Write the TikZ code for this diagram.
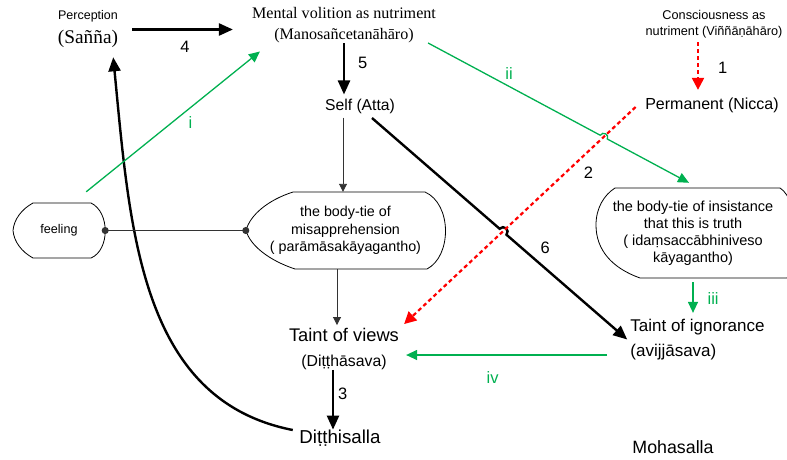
\documentclass[tikz,border=0pt]{standalone}
\usepackage{fontspec}
\setmainfont{Liberation Sans}
\newfontfamily\timesfont{Liberation Serif}
\usetikzlibrary{arrows.meta,calc}

\definecolor{vgreen}{RGB}{0,176,80}

\tikzset{
    txt/.style={inner sep=0pt, align=center},
    num/.style={inner sep=1pt, font=\fontsize{16.5}{18}\selectfont},
    gnum/.style={num, text=vgreen},
    thickarrow/.style={line width=2.4pt, -{Triangle[length=14pt,width=12pt]}},
    thinarrow/.style={line width=0.9pt, draw=black!80, -{Triangle[length=8pt,width=8pt]}},
    greenarrow/.style={line width=1.3pt, draw=vgreen, -{Triangle[length=11pt,width=10pt]}},
    redarrow/.style={line width=2.2pt, draw=red, dash pattern=on 4pt off 3pt,
        -{Triangle[length=12pt,width=12pt]}},
    tieline/.style={line width=0.8pt}
}

\begin{document}
\begin{tikzpicture}[x=1pt,y=-1pt]
\useasboundingbox (0,0) rectangle (787,459);

% Noeuds du haut
\node[txt] (perc) at (88,29.5)
    {\fontsize{12.5}{14}\selectfont Perception\\[7pt]
     \timesfont\fontsize{19.3}{21}\selectfont (Sañña)};
\node[txt, font=\timesfont\fontsize{16.1}{21}\selectfont] (vol) at (344,25)
    {Mental volition as nutriment\\(Manosañcetanāhāro)};
\node[txt, font=\fontsize{15.7}{18}\selectfont] (self) at (360,106) {Self (Atta)};
\node[txt, font=\fontsize{12.7}{16}\selectfont] (cons) at (714,24)
    {Consciousness as\\nutriment (Viññāṇāhāro)};
\node[txt, font=\fontsize{16}{18}\selectfont] (perm) at (712,105) {Permanent (Nicca)};

% Liens du corps
\node[txt, minimum width=92pt, minimum height=55pt,
    font=\fontsize{12.6}{15}\selectfont] (feel) at (59,230.5) {feeling};
\node[txt, minimum width=199pt, minimum height=77pt,
    font=\fontsize{14.3}{17.5}\selectfont] (miss) at (345.5,230.5)
    {the body-tie of\\misapprehension\\( parāmāsakāyagantho)};
\node[txt, minimum width=194pt, minimum height=90pt,
    font=\fontsize{14.5}{17}\selectfont] (insist) at (693,233)
    {the body-tie of insistance\\that this is truth\\( idaṃsaccābhiniveso\\kāyagantho)};

% Contours
\draw[tieline] (33,203) -- (91,203) .. controls (110,212) and (110,250) .. (91,258)
    -- (33,258) .. controls (22,252) and (14,242) .. (13,230.5)
    .. controls (14,219) and (22,209) .. cycle;
\draw[tieline] (293,192) -- (425,192) .. controls (452,204) and (452,256) .. (427,269)
    -- (295,269) .. controls (268,260) and (250,245) .. (246,230.5)
    .. controls (250,215) and (268,200) .. cycle;
\draw[tieline] (615,188) -- (780,188) .. controls (800,200) and (800,266) .. (787,278)
    -- (640,278) .. controls (612,268) and (596,250) .. (596,225)
    .. controls (596,208) and (604,195) .. cycle;

% Noeuds du bas
\node[txt, font=\fontsize{18.3}{25}\selectfont] (views) at (344,349)
    {Taint of views\\{\fontsize{15.8}{25}\selectfont (Diṭṭhāsava)}};
\node[txt, align=left, font=\fontsize{17}{25}\selectfont] (ignor) at (697.5,339.5)
    {Taint of ignorance\\(avijjāsava)};
\node[txt, font=\fontsize{18.7}{20}\selectfont] (dsalla) at (340,438) {Diṭṭhisalla};
\node[txt, font=\fontsize{17.8}{20}\selectfont] (moha) at (673,447) {Mohasalla};

% Fleches noires
\draw[thickarrow, shorten <=14pt, shorten >=19pt] (perc.east) -- (perc.east -| vol.west)
    node[num, midway, below=9pt] {4};
\draw[thickarrow, shorten >=4pt] (vol.south) -- (vol.south |- self.north)
    node[num, pos=0.35, right=12pt] {5};
\path ([shift={(12,4.5)}]self.south) coordinate (sixA) ([xshift=-3pt]ignor.west) coordinate (sixB);
\draw[thickarrow] (sixA) -- ($(sixA)!0.500!(sixB)$)
    .. controls ($(sixA)!0.500!(sixB)!6pt!90:(sixB)$) and ($(sixA)!0.527!(sixB)!6pt!90:(sixB)$)
    .. ($(sixA)!0.527!(sixB)$) -- (sixB)
    node[num, pos=0.32, above=12pt] {6};
\draw[thickarrow] ([xshift=-11pt]views.south) -- ([xshift=-11pt]views.south |- dsalla.north)
    node[num, pos=0.4, right=3pt] {3};
\draw[thickarrow] ([shift={(-6.5,-8)}]dsalla.west) .. controls (140,400) and (130,230)
    .. ([shift={(-5,9)}]perc.south east);

% Fleches fines
\draw[thinarrow, shorten <=4pt] ([xshift=-2.5pt]miss.north |- self.south) -- ([xshift=-2.5pt]miss.north);
\draw[thinarrow, shorten >=3pt] ([xshift=-8.5pt]miss.south) -- ([xshift=-8.5pt]miss.south |- views.north);
\draw[tieline, draw=black!80, {Circle[length=7pt]}-{Circle[length=7pt]},
    shorten <=-3.5pt, shorten >=-3.5pt] (feel.east) -- (miss.west);

% Fleches vertes
\draw[greenarrow] ([shift={(-19,-11)}]feel.north east) -- ([shift={(8,8.5)}]vol.south west)
    node[gnum, pos=0.6, below=7pt] {i};
\path ([shift={(-8,0)}]vol.south east) coordinate (iiA) ([shift={(-4,-5)}]insist.north) coordinate (iiB);
\draw[greenarrow] (iiA) -- ($(iiA)!0.660!(iiB)$) node[gnum, pos=0.47, above=5pt] {ii}
    .. controls ($(iiA)!0.660!(iiB)!5pt!90:(iiB)$) and ($(iiA)!0.687!(iiB)!5pt!90:(iiB)$)
    .. ($(iiA)!0.687!(iiB)$) -- (iiB);
\draw[greenarrow, shorten <=4pt, shorten >=6pt] (insist.south) -- (insist.south |- ignor.north)
    node[gnum, midway, right=13pt] {iii};
\draw[greenarrow] ([shift={(-23,15.5)}]ignor.west) -- ([shift={(7,15.5)}]ignor.west -| views.east)
    node[gnum, pos=0.57, below=15pt] {iv};

% Fleches rouges
\draw[redarrow, shorten <=4pt, shorten >=7.5pt] ([xshift=-16pt]cons.south)
    -- ([xshift=-16pt]cons.south |- perm.north) node[num, midway, right=18pt] {1};
\draw[redarrow] ([shift={(-9.5,2)}]perm.west) -- ([shift={(5,-4)}]views.north east)
    node[num, pos=0.25, below right=4pt] {2};

\end{tikzpicture}
\end{document}
